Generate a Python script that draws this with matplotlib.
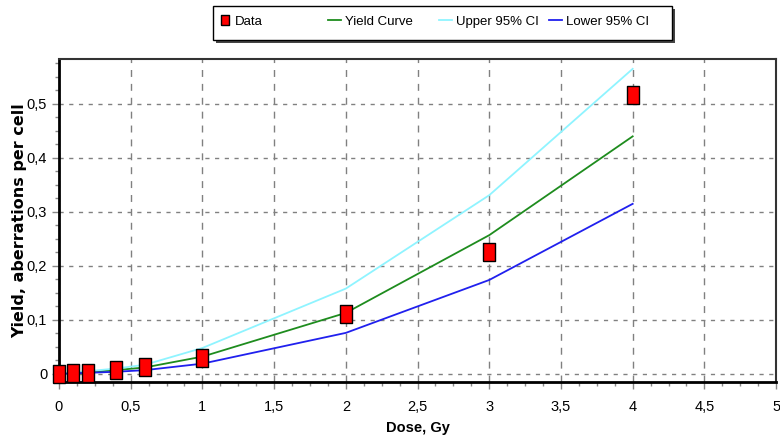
import matplotlib.pyplot as plt
from matplotlib.patches import Rectangle
from matplotlib.ticker import MultipleLocator, FuncFormatter

plt.rcParams['font.family'] = ['Liberation Sans', 'DejaVu Sans']

# 数据
dose = [0, 0.1, 0.2, 0.4, 0.6, 1, 2, 3, 4]
data_yield = [0.0, 0.002, 0.002, 0.007, 0.013, 0.03, 0.111, 0.226, 0.517]
fit_yield = [0.0, 0.002, 0.003, 0.007, 0.012, 0.032, 0.113, 0.257, 0.44]
upper_ci = [0.001, 0.003, 0.005, 0.01, 0.017, 0.048, 0.158, 0.331, 0.565]
lower_ci = [0.0, 0.001, 0.002, 0.004, 0.007, 0.019, 0.076, 0.174, 0.315]

fig = plt.figure(figsize=(7.8, 4.48), dpi=100)
ax = fig.add_axes([0.0756, 0.1473, 0.9194, 0.7207])

ax.plot(dose, fit_yield, color='#1e8c1e', lw=1.3, label='Yield Curve', zorder=3)
ax.plot(dose, upper_ci, color='#8ff4ff', lw=1.3, label='Upper 95% CI', zorder=3)
ax.plot(dose, lower_ci, color='#2020ee', lw=1.3, label='Lower 95% CI', zorder=3)
rect = [(-0.7, -1), (0.7, -1), (0.7, 1), (-0.7, 1), (-0.7, -1)]
ax.plot(dose, data_yield, linestyle='none', marker=rect, markersize=12.5,
        markerfacecolor='red', markeredgecolor='black', markeredgewidth=1.0,
        label='Data', zorder=4, clip_on=False)

ax.set_xlim(0, 5)
ax.set_ylim(-0.015, 0.583)
ax.xaxis.set_major_locator(MultipleLocator(0.5))
ax.xaxis.set_minor_locator(MultipleLocator(0.125))
ax.yaxis.set_major_locator(MultipleLocator(0.1))
ax.yaxis.set_minor_locator(MultipleLocator(0.025))
fmt = FuncFormatter(lambda v, p: ('%g' % round(v, 3)).replace('.', ','))
ax.xaxis.set_major_formatter(fmt)
ax.yaxis.set_major_formatter(fmt)
ax.tick_params(axis='both', which='major', labelsize=10.5, length=5, width=1, color='#888888')
ax.tick_params(axis='both', which='minor', length=3, width=1, color='#888888')
ax.tick_params(axis='x', pad=8)

ax.grid(True, which='major', axis='x', linestyle=(0, (5, 5)), color='#808080', lw=1)
ax.grid(True, which='major', axis='y', linestyle=(0, (3, 4)), color='#808080', lw=1)

for side in ['left', 'bottom']:
    ax.spines[side].set_linewidth(2)
for side in ['top', 'right']:
    ax.spines[side].set_linewidth(1.5)
    ax.spines[side].set_color('#333333')

ax.set_xlabel('Dose, Gy', fontsize=10.5, fontweight='bold', labelpad=5)
ax.set_ylabel('Yield, aberrations per cell', fontsize=11.5, fontweight='bold',
              family=['DejaVu Sans'], labelpad=0)

# 图例：外框 + 阴影，四个条目等距排列
fig.patches.append(Rectangle((0.2769, 0.9040), 0.5885, 0.0759, transform=fig.transFigure,
                             facecolor='#444444', edgecolor='none', zorder=1))
fig.patches.append(Rectangle((0.2731, 0.9107), 0.5885, 0.0759, transform=fig.transFigure,
                             facecolor='white', edgecolor='black', lw=1, zorder=2))
h, l = ax.get_legend_handles_labels()
order = [3, 0, 1, 2]
col_x = [0.2795, 0.4205, 0.5625, 0.7035]
for i, x in zip(order, col_x):
    fig.legend([h[i]], [l[i]], loc='center left', bbox_to_anchor=(x, 0.951),
               frameon=False, fontsize=9.5, handlelength=1.0, handletextpad=0.3,
               borderpad=0, borderaxespad=0, markerscale=0.6)

fig.savefig('out.png', dpi=100)
